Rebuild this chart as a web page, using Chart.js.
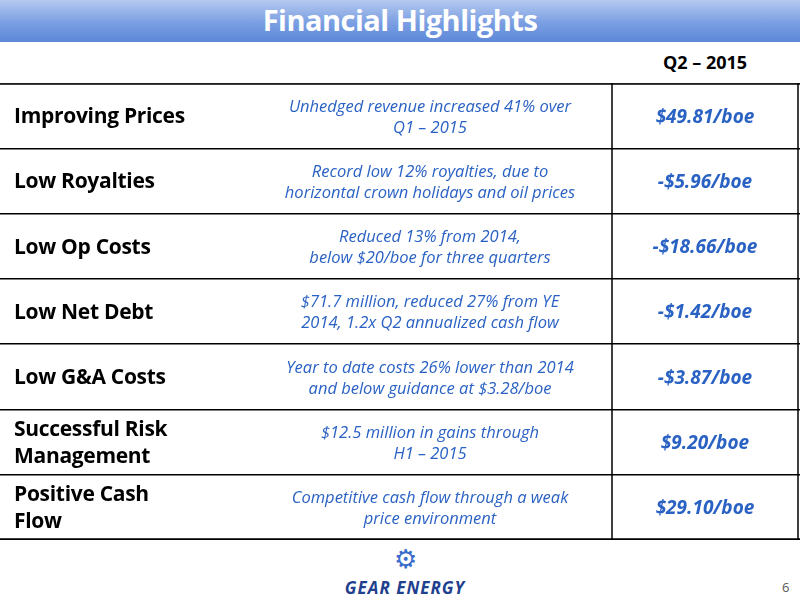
<!DOCTYPE html>
<html><head><meta charset="utf-8">
<script src="https://cdn.jsdelivr.net/npm/chart.js@4"></script>
<style>
body{margin:0;width:800px;height:600px;background:#fff;font-family:"Open Sans",sans-serif;overflow:hidden;position:relative}
#hdr{position:absolute;left:0;top:0;width:800px;height:42px;background:linear-gradient(#b4c9ef,#7a9ee2 55%,#5d88d8);color:#fff;font-weight:bold;font-size:29px;text-align:center;line-height:40px;letter-spacing:-0.5px}
#cv{position:absolute;left:0;top:83px;width:800px;height:457px}
.t{position:absolute;left:14px;width:178px;font-weight:bold;font-size:21px;color:#000;line-height:27px;display:flex;align-items:center;letter-spacing:-0.3px}
.d{position:absolute;left:248px;width:364px;font-style:italic;font-size:16.5px;color:#2a62c4;text-align:center;line-height:21px;display:flex;align-items:center;justify-content:center}
.v{position:absolute;left:612px;width:186px;font-style:italic;font-weight:bold;font-size:19px;color:#2a62c4;text-align:center;display:flex;align-items:center;justify-content:center}
</style></head><body>
<div id="hdr">Financial Highlights</div>
<div style="position:absolute;left:612px;width:186px;top:50px;text-align:center;font-weight:bold;font-size:18px">Q2 – 2015</div>
<canvas id="cv" width="800" height="457"></canvas>
<div id="rows"></div>
<div style="position:absolute;left:330px;top:540px;width:150px;text-align:center">
<div style="font-size:26px;color:#3a6ccb">⚙</div>
<div style="font-weight:bold;font-style:italic;font-size:17px;color:#1f3f8f;letter-spacing:1px">GEAR ENERGY</div></div>
<div style="position:absolute;left:782px;top:578px;font-size:13px;color:#555">6</div>
<script>
const categories=["Improving Prices","Low Royalties","Low Op Costs","Low Net Debt","Low G&A Costs","Successful Risk Management","Positive Cash Flow"];
const descriptions=["Unhedged revenue increased 41% over|Q1 – 2015","Record low 12% royalties, due to|horizontal crown holidays and oil prices","Reduced 13% from 2014,|below $20/boe for three quarters","$71.7 million, reduced 27% from YE|2014, 1.2x Q2 annualized cash flow","Year to date costs 26% lower than 2014|and below guidance at $3.28/boe","$12.5 million in gains through|H1 – 2015","Competitive cash flow through a weak|price environment"];
const values=["$49.81/boe","-$5.96/boe","-$18.66/boe","-$1.42/boe","-$3.87/boe","$9.20/boe","$29.10/boe"];
const numbers=[49.81,-5.96,-18.66,-1.42,-3.87,9.20,29.10];
const top0=83,rowH=457/7;
let h="";
categories.forEach((c,i)=>{const y=top0+i*rowH;
h+=`<div class="t" style="top:${y}px;height:${rowH}px">${c}</div>`;
h+=`<div class="d" style="top:${y}px;height:${rowH}px"><span>${descriptions[i].replace("|","<br>")}</span></div>`;
h+=`<div class="v" style="top:${y}px;height:${rowH}px">${values[i]}</div>`;});
document.getElementById("rows").innerHTML=h;
new Chart(document.getElementById("cv"),{type:"bar",
data:{labels:categories,datasets:[{data:numbers,backgroundColor:"rgba(0,0,0,0)"}]},
options:{indexAxis:"y",responsive:false,animation:false,events:[],layout:{padding:0},
plugins:{legend:{display:false},tooltip:{enabled:false}},
scales:{y:{display:true,ticks:{display:false},grid:{offset:true,color:"#000",lineWidth:1.5,drawTicks:false},border:{display:false}},
x:{display:false}}},
plugins:[{id:"box",afterDraw(ch){const g=ch.ctx;g.save();g.strokeStyle="#000";g.lineWidth=1.5;g.beginPath();g.moveTo(612,0);g.lineTo(612,457);g.moveTo(798,0);g.lineTo(798,457);g.moveTo(0,1);g.lineTo(800,1);g.moveTo(0,456);g.lineTo(800,456);g.stroke();g.restore();}}]});
</script></body></html>
